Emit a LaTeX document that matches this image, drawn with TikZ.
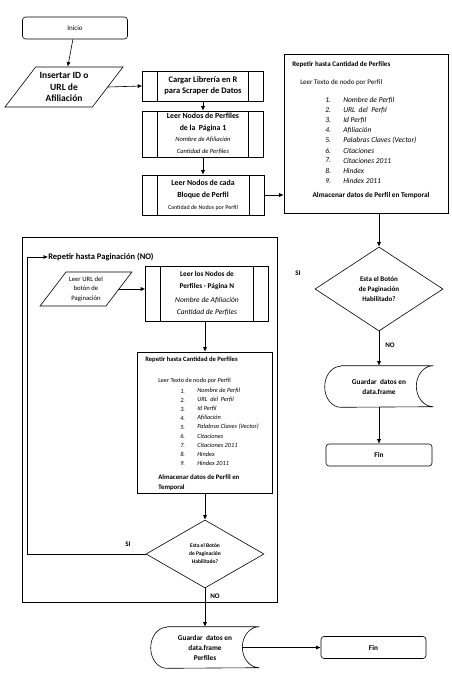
\documentclass[tikz,border=0pt]{standalone}
\usepackage{fontspec}
\setmainfont{Carlito}
\usetikzlibrary{shapes.geometric,arrows.meta}
\newcommand{\fsz}[2]{\fontsize{#1}{#2}\selectfont}
\begin{document}
\begin{tikzpicture}[x=1pt,y=-1pt,line width=0.6pt,
 >={Latex[length=4.5pt,width=4pt]},
 term/.style={draw,rounded corners=3pt,inner sep=0pt,minimum height=22pt},
 io/.style={draw,trapezium,trapezium left angle=48,trapezium right angle=132,
  trapezium stretches=true,inner sep=0pt,align=center},
 proc/.style={draw,inner sep=0pt,align=center,
  path picture={\draw ([xshift=15pt]path picture bounding box.north west)--([xshift=15pt]path picture bounding box.south west)
   ([xshift=-15pt]path picture bounding box.north east)--([xshift=-15pt]path picture bounding box.south east);}},
 box/.style={draw,inner sep=0pt},
 choice/.style={draw,diamond,inner sep=0pt,align=center},
 store/.style={inner sep=0pt,align=center,minimum height=41pt},
 lbl/.style={inner sep=0pt,font=\fsz{7}{8}\bfseries},
 txt/.style={inner sep=0pt,anchor=west}]
 \useasboundingbox (0,0) rectangle (451,676);
 % upper left column
 \node[term,minimum width=105pt,font=\fsz{7}{8}] (inicio) at (75,28) {Inicio};
 \node[io,minimum width=118pt,minimum height=40pt,font=\fsz{9.5}{11.5}\bfseries] (insertar) at (64,87) {Insertar ID o\\URL de\\Afiliación};
 \node[proc,minimum width=121pt,minimum height=30pt,font=\fsz{8.5}{11}\bfseries] (cargar) at (203,86) {Cargar Librería en R\\para Scraper de Datos};
 \node[proc,minimum width=121pt,minimum height=46pt] (nodos1) at (203,134)
  {{\fsz{7.8}{11}\bfseries Leer Nodos de Perfiles}\\{\fsz{7.8}{10.5}\bfseries de la\ \ Página 1}\\[-1pt]
   {\fsz{6.5}{9}\itshape Nombre de Afiliación}\\{\fsz{6.5}{9}\itshape Cantidad de Perfiles}};
 \node[proc,minimum width=122pt,minimum height=40pt] (cada) at (203,195)
  {{\fsz{7.8}{11}\bfseries Leer Nodos de cada}\\{\fsz{7.8}{11}\bfseries Bloque de Perfil}\\{\fsz{6}{8}Cantidad de Nodos por Perfil}};
 \draw[->] (inicio) -- (insertar);
 \draw[->] (insertar.east) -- (cargar.west);
 \draw[->] (cargar) -- (nodos1);
 \draw[->] (nodos1) -- (cada);
 % right loop
 \node[box,minimum width=164pt,minimum height=159pt] (rep1) at (366,133.5) {};
 \node[txt,font=\fsz{7}{8}\bfseries] (rep1head) at (292,65) {Repetir hasta Cantidad de Perfiles};
 \node[txt,font=\fsz{7}{8}] (rep1leer) at (300,83) {Leer Texto de nodo por Perfil};
 \foreach \i/\t in {1/{Nombre de Perfil},2/{URL\ \ del\ \ Perfil},3/{Id Perfil},4/{Afiliación},
  5/{Palabras Claves (Vector)},6/{Citaciones},7/{Citaciones 2011},8/{Hindex},9/{Hindex 2011}}{
  \node[txt,font=\fsz{7.5}{8}\itshape] (rep1n\i) at (325,{100+(\i-1)*10.1}) {\i.};
  \node[txt,font=\fsz{7.5}{8}\itshape] (rep1t\i) at (343,{100+(\i-1)*10.1}) {\t};
 }
 \node[inner sep=0pt,font=\fsz{7.3}{8}\bfseries] (rep1alm) at (371,196) {Almacenar datos de Perfil en Temporal};
 \draw[->] (cada.east) -- (cada.east -| rep1.west);
 \node[choice,minimum width=128pt,minimum height=84pt,font=\fsz{7}{10}\bfseries] (dia1) at (379,289) {Esta el Botón\\de Paginación\\Habilitado?};
 \draw[->] (rep1.south -| dia1.north) -- (dia1.north);
 \node[lbl] (si1) at (298,273) {SI};
 \node[lbl] (no1) at (390,345) {NO};
 \node[store,minimum width=108pt,font=\fsz{7.3}{10}\bfseries] (guard1) at (379,386.5) {Guardar\ \ datos en\\data.frame};
 \node[term,minimum width=106pt,font=\fsz{7.3}{8}\bfseries] (fin1) at (379,455) {Fin};
 \draw[->] (dia1.south) -- (guard1.north);
 \draw[->] (guard1.south) -- (fin1.north);
 % pagination frame
 \node[draw,line width=1pt,inner sep=0pt,minimum width=255pt,minimum height=365pt] (pag) at (149.5,419.5) {};
 \node[txt,font=\fsz{8.5}{9}\bfseries] (reptxt) at (48,257) {Repetir hasta Paginación (NO)};
 \node[io,minimum width=92pt,minimum height=34pt,font=\fsz{6.7}{9.3}] (leerurl) at (86,289) {Leer URL del\\botón de\\Paginación};
 \node[proc,minimum width=123pt,minimum height=55pt] (nodosN) at (207,293.5)
  {{\fsz{7.3}{9}\bfseries Leer los Nodos de}\\{\fsz{7.3}{9}\bfseries Perfiles - Página N}\\[2pt]
   {\fsz{7.5}{9}\itshape Nombre de Afiliación}\\{\fsz{7.5}{9}\itshape Cantidad de Perfiles}};
 \draw[->] (leerurl.east) -- (leerurl.east -| nodosN.west);
 \node[box,minimum width=135pt,minimum height=141pt] (rep2) at (205,422.5) {};
 \draw[->] (nodosN.south -| rep2.north) -- (rep2.north);
 \node[txt,font=\fsz{6.6}{8}\bfseries] (rep2head) at (145,360) {Repetir hasta Cantidad de Perfiles};
 \node[txt,font=\fsz{6.2}{8}] (rep2leer) at (158,381) {Leer Texto de nodo por Perfil};
 \foreach \i/\t in {1/{Nombre de Perfil},2/{URL\ \ del\ \ Perfil},3/{Id Perfil},4/{Afiliación},
  5/{Palabras Claves (Vector)},6/{Citaciones},7/{Citaciones 2011},8/{Hindex},9/{Hindex 2011}}{
  \node[txt,font=\fsz{6.3}{8}\itshape] (rep2n\i) at (180,{391+(\i-1)*9}) {\i.};
  \node[txt,font=\fsz{6.3}{8}\itshape] (rep2t\i) at (197,{391+(\i-1)*9}) {\t};
 }
 \node[inner sep=0pt,anchor=north west,align=left,font=\fsz{6.8}{10}\bfseries] (rep2alm) at (158,474) {Almacenar datos de Perfil en\\Temporal};
 \node[choice,minimum width=118pt,minimum height=68pt,font=\fsz{5.5}{8}\bfseries] (dia2) at (205,554) {Esta el Botón\\de Paginación\\Habilitado?};
 \draw[->] (rep2) -- (dia2);
 \coordinate (loop) at (27,554);
 \draw[->] (dia2.west) -- (loop) |- (reptxt.west);
 \node[lbl] (si2) at (128,544) {SI};
 \node[lbl] (no2) at (215,596) {NO};
 \node[store,minimum width=108pt,font=\fsz{7.3}{10}\bfseries] (guard2) at (205,647.5) {Guardar\ \ datos en\\data.frame\\Perfiles};
 \node[term,minimum width=105pt,font=\fsz{7.3}{8}\bfseries] (fin2) at (373.5,647.5) {Fin};
 \draw[->] (dia2.south) -- (guard2.north);
 \draw[->] ([xshift=-17pt]guard2.east) -- (fin2.west);
 % stored data outlines
 \foreach \n in {guard1,guard2}{
  \draw ([xshift=16pt]\n.north west) -- (\n.north east)
   arc[start angle=90,end angle=270,x radius=17pt,y radius=20.5pt]
   -- ([xshift=16pt]\n.south west)
   arc[start angle=270,end angle=90,x radius=16pt,y radius=20.5pt];
 }
\end{tikzpicture}
\end{document}
